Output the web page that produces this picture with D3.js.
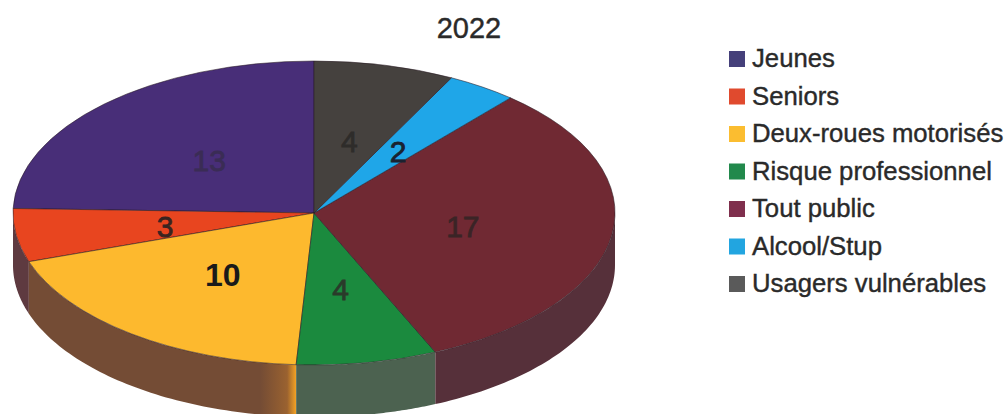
<!DOCTYPE html>
<html>
<head>
<meta charset="utf-8">
<script src="https://cdn.jsdelivr.net/npm/d3@7"></script>
<style>
  html, body { margin: 0; padding: 0; background: #fff; }
  svg { display: block; font-family: "Liberation Sans", Arial, sans-serif; }
</style>
</head>
<body>
<svg id="chart" width="1007" height="414"></svg>
<script>
const titleText = "2022";
const categories = ["Jeunes", "Seniors", "Deux-roues motorisés", "Risque professionnel", "Tout public", "Alcool/Stup", "Usagers vulnérables"];
const values = [13, 3, 10, 4, 17, 2, 4];
const topColors = ["#482e78", "#e8451f", "#fdb92e", "#1b8a3e", "#702933", "#1fa6e8", "#45413e"];
const wallColors = ["#33224f", "#5e3a40", "#744c35", "#4c6250", "#56303a", "#1b6f9b", "#343230"];
const swatchColors = ["#45407a", "#e04a2e", "#fbbd30", "#22894c", "#7f2f4d", "#22a5e0", "#5a5a5a"];
const labelColors = ["#3a2c55", "#3a2420", "#1a1a1a", "#2a3a2a", "#3a2426", "#1a2230", "#2e2c2a"];
const labelWeights = ["normal", "normal", "bold", "normal", "normal", "normal", "normal"];
const labelSizes = [30, 30, 32, 30, 30, 30, 30];

const cx = 314, cy = 213, rx = 301, ry = 152, depth = 52;
const svg = d3.select("#chart");

// Slices run counter-clockwise from twelve o'clock, in legend order.
const slices = d3.pie().sort(null).value(d => d).startAngle(0).endAngle(-2 * Math.PI)(values);
const px = a => cx + rx * Math.sin(a);
const py = a => cy - ry * Math.cos(a);

// Side wall: only the front half of the rim is visible.
const defs = svg.append("defs");
const wallArea = d3.area().x(a => px(a)).y0(a => py(a)).y1(a => py(a) + depth);
const frontFrom = -1.5 * Math.PI, frontTo = -0.5 * Math.PI;

slices.forEach((s, i) => {
  const hi = Math.min(s.startAngle, frontTo), lo = Math.max(s.endAngle, frontFrom);
  if (hi <= lo) return;
  const steps = d3.range(0, 61).map(k => lo + (hi - lo) * k / 60);
  let fill = wallColors[i];
  // The yellow slice's wall catches the light near its right end.
  if (categories[i] === "Deux-roues motorisés") {
    const g = defs.append("linearGradient").attr("id", "wallGlow")
      .attr("gradientUnits", "userSpaceOnUse")
      .attr("x1", px(lo) - 36).attr("x2", px(lo)).attr("y1", 0).attr("y2", 0);
    g.append("stop").attr("offset", 0).attr("stop-color", wallColors[i]);
    g.append("stop").attr("offset", 0.75).attr("stop-color", "#9a6230");
    g.append("stop").attr("offset", 1).attr("stop-color", "#f5a324");
    fill = "url(#wallGlow)";
  }
  svg.append("path").attr("d", wallArea(steps)).attr("fill", fill);
});

// Pie face, squashed into an ellipse.
const arc = d3.arc().innerRadius(0).outerRadius(rx);
const face = svg.append("g").attr("transform", `translate(${cx},${cy}) scale(1,${ry / rx})`);
face.selectAll("path").data(slices).join("path")
  .attr("d", arc)
  .attr("fill", (d, i) => topColors[i])
  .attr("stroke", "#2a1c24").attr("stroke-opacity", 0.55)
  .attr("stroke-width", 1).attr("vector-effect", "non-scaling-stroke");

// Value labels sit at each slice's centroid.
svg.append("g").selectAll("text").data(slices).join("text")
  .attr("x", d => cx + arc.centroid(d)[0])
  .attr("y", d => cy + arc.centroid(d)[1] * ry / rx + 2)
  .attr("text-anchor", "middle").attr("dominant-baseline", "central")
  .attr("font-size", (d, i) => labelSizes[i])
  .attr("font-weight", (d, i) => labelWeights[i])
  .attr("fill", (d, i) => labelColors[i])
  .attr("stroke", (d, i) => labelColors[i])
  .attr("stroke-width", (d, i) => labelWeights[i] === "bold" ? 0 : 0.8)
  .text(d => d.data);

svg.append("text").attr("x", 469).attr("y", 38).attr("text-anchor", "middle")
  .attr("font-size", 29).attr("fill", "#2a2a2a")
  .attr("stroke", "#2a2a2a").attr("stroke-width", 0.4).text(titleText);

// Legend
const rowY = d3.scalePoint().domain(categories).range([59, 284]);
const legend = svg.append("g").selectAll("g").data(categories).join("g")
  .attr("transform", d => `translate(729,${rowY(d)})`);
legend.append("rect").attr("x", 0).attr("y", -8).attr("width", 16).attr("height", 16)
  .attr("fill", (d, i) => swatchColors[i]);
legend.append("text").attr("x", 23).attr("y", 8)
  .attr("font-size", 25.7).attr("fill", "#2a2a2a")
  .attr("stroke", "#2a2a2a").attr("stroke-width", 0.4).text(d => d);
</script>
</body>
</html>
